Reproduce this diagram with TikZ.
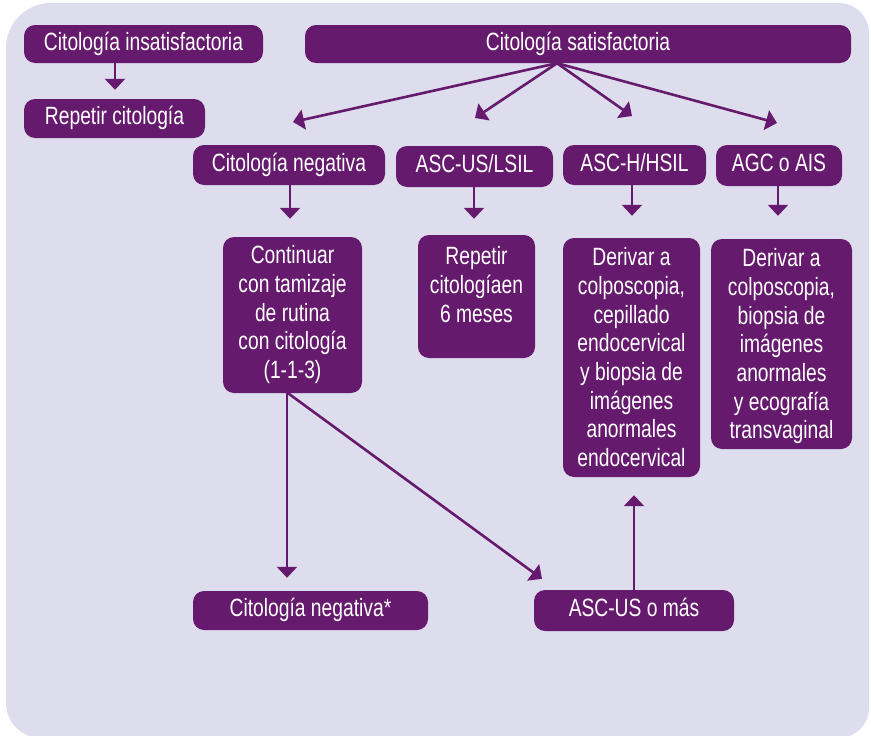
\documentclass[tikz,border=0pt]{standalone}
\usepackage{fontspec}
\setmainfont{Liberation Sans}[FakeStretch=0.77]
\usetikzlibrary{arrows.meta}

\definecolor{panel}{HTML}{DEDDEE}
\definecolor{plum}{HTML}{661A6E}

\tikzset{
  box/.style={fill=plum, rounded corners=11pt, inner sep=0pt},
  onebox/.style={box, text=white, text height=17.9pt, text depth=5.5pt,
    font=\fontsize{25pt}{28.7pt}\selectfont},
  lines/.style={text=white, align=center, inner sep=0pt, anchor=north,
    font=\fontsize{25pt}{28.7pt}\selectfont},
  arr/.style={draw=plum, line width=2.6pt,
    -{Triangle[length=11pt,width=20pt]}},
}

\begin{document}
\begin{tikzpicture}[x=1pt, y=-1pt]
\useasboundingbox (0,0) rectangle (871,736);

% panel with unequal corner radii
\fill[panel] (51,3) -- (839,3) arc[start angle=270, end angle=360, radius=30]
  -- (869,708) arc[start angle=0, end angle=90, radius=30]
  -- (41,738) arc[start angle=90, end angle=180, radius=35]
  -- (6,48) arc[start angle=180, end angle=270, radius=45] -- cycle;

% single-line boxes
\node[onebox, minimum width=239pt, minimum height=38pt] (insat) at (143.5,44) {Citología insatisfactoria};
\node[onebox, minimum width=181pt, minimum height=39pt] (rep) at (114.5,118.5) {Repetir citología};
\node[onebox, minimum width=546pt, minimum height=38pt] (sat) at (578,44) {Citología satisfactoria};
\node[onebox, minimum width=192pt, minimum height=40pt] (cneg) at (289,165) {Citología negativa};
\node[onebox, minimum width=157pt, minimum height=41pt] (ascus) at (474.5,166.5) {ASC-US/LSIL};
\node[onebox, minimum width=143pt, minimum height=40pt] (asch) at (634.5,165) {ASC-H/HSIL};
\node[onebox, minimum width=126pt, minimum height=41pt] (agc) at (779,165.5) {AGC o AIS};
\node[onebox, minimum width=235pt, minimum height=39pt] (negstar) at (310.5,610.5) {Citología negativa*};
\node[onebox, minimum width=200pt, minimum height=41pt] (ascmas) at (634,610.5) {ASC-US o más};

% multi-line boxes, text set from the top
\node[box, minimum width=139pt, minimum height=156pt] (cont) at (292.5,315) {};
\node[lines] (cont-t) at ([yshift=-8.5pt]cont.north) {Continuar\\con tamizaje\\de rutina\\con citología\\(1-1-3)};
\node[box, minimum width=117pt, minimum height=123pt] (rep6) at (476.5,296.5) {};
\node[lines] (rep6-t) at ([yshift=-11.5pt]rep6.north) {Repetir\\citologíaen\\6 meses};
\node[box, minimum width=137pt, minimum height=239pt] (der1) at (631.5,357.5) {};
\node[lines] (der1-t) at ([yshift=-9.5pt]der1.north) {Derivar a\\colposcopia,\\cepillado\\endocervical\\y biopsia de\\imágenes\\anormales\\endocervical};
\node[box, minimum width=141pt, minimum height=210pt] (der2) at (781.5,344) {};
\node[lines] (der2-t) at ([yshift=-9.5pt]der2.north) {Derivar a\\colposcopia,\\biopsia de\\imágenes\\anormales\\y ecografía\\transvaginal};

% connectors
\draw[arr, shorten >=9pt] (115,0 |- insat.south) -- (115,0 |- rep.north);

\coordinate (fork) at (557,0 |- sat.south);
\coordinate (tip-cneg) at (293,122);
\coordinate (tip-ascus) at (475,118);
\coordinate (tip-asch) at (632,116);
\coordinate (tip-agc) at (777,123);
\draw[arr] (fork) -- (tip-cneg);
\draw[arr] (fork) -- (tip-ascus);
\draw[arr] (fork) -- (tip-asch);
\draw[arr] (fork) -- (tip-agc);

\draw[arr, shorten >=18pt] (290,0 |- cneg.south) -- (290,0 |- cont.north);
\draw[arr, shorten >=16pt] (474,0 |- ascus.south) -- (474,0 |- rep6.north);
\draw[arr, shorten >=22pt] (632,0 |- asch.south) -- (632,0 |- der1.north);
\draw[arr, shorten >=23pt] (778,0 |- agc.south) -- (778,0 |- der2.north);

\draw[arr, shorten >=13pt] (287,0 |- cont.south) -- (287,0 |- negstar.north);
\draw[arr, shorten >=18.6pt] (288,0 |- cont.south) -- (557,0 |- ascmas.north);
\draw[arr, shorten >=18pt] (634,0 |- ascmas.north) -- (634,0 |- der1.south);
\end{tikzpicture}
\end{document}
